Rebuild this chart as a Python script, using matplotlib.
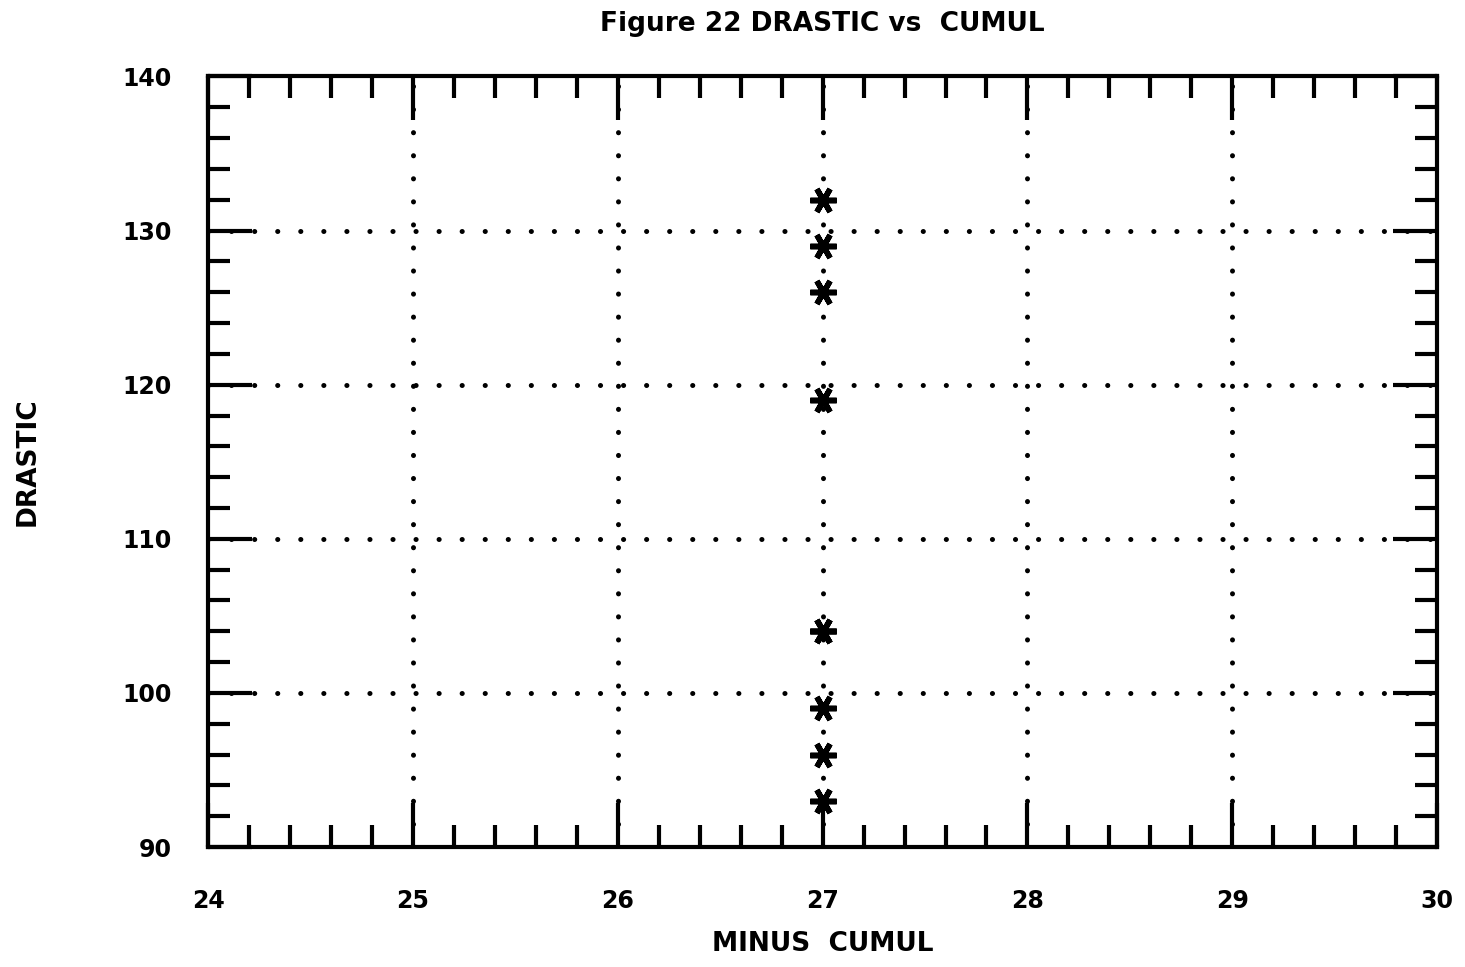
import numpy as np
import matplotlib.pyplot as plt
from matplotlib.ticker import MultipleLocator

# DRASTIC index against minus cumulative score
minus_cumul = [27, 27, 27, 27, 27, 27, 27, 27, 27]
drastic = [132, 129, 126, 119, 104, 104, 99, 96, 93]

x_ticks = [24, 25, 26, 27, 28, 29, 30]
y_ticks = [90, 100, 110, 120, 130, 140]

plt.rcParams['font.family'] = 'DejaVu Sans'
plt.rcParams['font.weight'] = 'bold'
plt.rcParams['lines.scale_dashes'] = False

fig = plt.figure(figsize=(14.65, 9.67), dpi=100)
ax = fig.add_axes([0.142, 0.124, 0.839, 0.797])

ax.plot(minus_cumul, drastic, linestyle='none', marker=(6, 2, 90),
        markersize=19, markeredgewidth=4, color='black', zorder=5)

ax.set_xlim(24, 30)
ax.set_ylim(90, 140)
ax.set_xticks(x_ticks)
ax.set_yticks(y_ticks)
ax.xaxis.set_minor_locator(MultipleLocator(0.2))
ax.yaxis.set_minor_locator(MultipleLocator(2))

ax.tick_params(which='both', direction='in', top=True, right=True,
               width=3, color='black', labelsize=17)
ax.tick_params(axis='x', pad=30)
ax.tick_params(axis='y', pad=26)
ax.tick_params(which='major', length=32)
ax.tick_params(which='minor', length=16)
for s in ax.spines.values():
    s.set_linewidth(3)

ax.grid(True, which='major', color='black', linewidth=3.6,
        linestyle=(0, (0.1, 16.5)), dash_capstyle='round')
# no dotted lines on top of the frame itself
for lines in (ax.get_xgridlines(), ax.get_ygridlines()):
    lines[0].set_visible(False)
    lines[-1].set_visible(False)

ax.set_title('Figure 22 DRASTIC vs  CUMUL', fontsize=19, fontweight='bold', pad=33)
ax.set_xlabel('MINUS  CUMUL', fontsize=19, fontweight='bold', labelpad=13)
ax.set_ylabel('DRASTIC', fontsize=19, fontweight='bold', labelpad=59)

fig.savefig('out.png', dpi=100)
